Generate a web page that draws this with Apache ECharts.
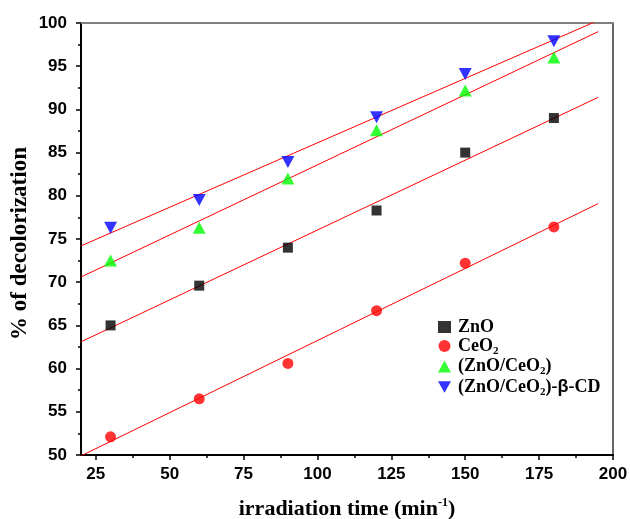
<!DOCTYPE html>
<html>
<head>
    <meta charset="utf-8">
    <title>decolorization</title>
    <script src="https://cdn.jsdelivr.net/npm/echarts@6.0.0/dist/echarts.min.js"></script>
    <style>
        html, body { margin: 0; padding: 0; background: #fff; }
        #main { width: 630px; height: 519px; }
    </style>
</head>
<body>
    <div id="main"></div>
    <script type="text/javascript">
        // data
        var times = [30, 60, 90, 120, 150, 180];
        var zno = [65.0, 69.6, 74.0, 78.3, 85.0, 89.0];
        var ceo2 = [52.1, 56.5, 60.6, 66.7, 72.2, 76.4];
        var znoCeo2 = [72.5, 76.3, 82.0, 87.6, 92.2, 96.0];
        var znoCeo2Cd = [76.3, 79.5, 83.9, 89.1, 94.1, 97.9];

        // fitted lines: start / end points
        var fitZno = [[20, 63.1], [195, 91.4]];
        var fitCeo2 = [[20, 49.9], [195, 79.1]];
        var fitZnoCeo2 = [[20, 70.6], [195, 99.0]];
        var fitZnoCeo2Cd = [[20, 74.2], [195, 100.3]];

        var xMajor = [25, 50, 75, 100, 125, 150, 175, 200];
        var xMinor = [37.5, 62.5, 87.5, 112.5, 137.5, 162.5, 187.5];

        function pairs(xs, ys) {
            return xs.map(function (x, i) { return [x, ys[i]]; });
        }

        var serif = "'Liberation Serif', 'Times New Roman', serif";
        var sans = "'Liberation Sans', Arial, sans-serif";
        var gridBox = { left: 81, right: 17, top: 23, bottom: 64, containLabel: false, outerBoundsMode: 'none' };
        var downTri = 'path://M0,0 L10,0 L5,9 Z';

        var rich = {
            b: { fontFamily: serif, fontWeight: 'bold', fontSize: 18, lineHeight: 21, color: '#000' },
            s: { fontFamily: serif, fontWeight: 'bold', fontSize: 11, lineHeight: 9, verticalAlign: 'bottom', color: '#000' },
            g: { fontFamily: sans, fontWeight: 'bold', fontSize: 18, lineHeight: 21, color: '#000' }
        };
        var legendNames = {
            'ZnO': '{b|ZnO}',
            'CeO2': '{b|CeO}{s|2}',
            '(ZnO/CeO2)': '{b|(ZnO/CeO}{s|2}{b|)}',
            '(ZnO/CeO2)-b-CD': '{b|(ZnO/CeO}{s|2}{b|)-}{g|β}{b|-CD}'
        };

        var myChart = echarts.init(document.getElementById("main"), null, { renderer: 'canvas' });

        function fitLine(pts) {
            return {
                type: 'line', data: pts, symbol: 'none', silent: true,
                lineStyle: { color: '#ff0000', width: 1 }, z: 1
            };
        }

        var option = {
            animation: false,
            backgroundColor: '#fff',
            grid: [
                Object.assign({}, gridBox),
                Object.assign({}, gridBox)
            ],
            legend: {
                orient: 'vertical',
                left: 433,
                top: 313,
                itemWidth: 13,
                itemHeight: 12,
                itemGap: 1,
                data: ['ZnO', 'CeO2', '(ZnO/CeO2)', '(ZnO/CeO2)-b-CD'],
                formatter: function (name) { return legendNames[name]; },
                textStyle: { rich: rich, padding: [0, 0, 0, 2] }
            },
            xAxis: [
                {
                    type: 'value', gridIndex: 0, position: 'bottom',
                    min: 20, max: 200,
                    name: '{t|irradiation time (min}{p|-1}{t|)}',
                    nameLocation: 'middle', nameGap: 42, nameMoveOverlap: false,
                    nameTextStyle: {
                        rich: {
                            t: { fontFamily: serif, fontWeight: 'bold', fontSize: 22, color: '#000', lineHeight: 24 },
                            p: { fontFamily: serif, fontWeight: 'bold', fontSize: 12, color: '#000', verticalAlign: 'top', lineHeight: 12 }
                        }
                    },
                    axisLine: { onZero: false, lineStyle: { color: '#000', width: 2 } },
                    axisTick: { customValues: xMajor, length: 5, lineStyle: { color: '#000', width: 1.5 } },
                    axisLabel: {
                        customValues: xMajor, margin: 11,
                        fontFamily: sans, fontWeight: 'bold', fontSize: 17, color: '#000'
                    },
                    splitLine: { show: false }
                },
                {
                    type: 'value', gridIndex: 0, position: 'top',
                    min: 20, max: 200,
                    axisLine: { onZero: false, lineStyle: { color: '#808080', width: 2 } },
                    axisTick: { show: false },
                    axisLabel: { show: false },
                    splitLine: { show: false }
                },
                {
                    type: 'value', gridIndex: 1, position: 'bottom',
                    min: 20, max: 200,
                    axisLine: { show: false, onZero: false },
                    axisTick: { customValues: xMinor, length: 3, lineStyle: { color: '#000', width: 1.5 } },
                    axisLabel: { show: false },
                    splitLine: { show: false }
                }
            ],
            yAxis: [
                {
                    type: 'value', gridIndex: 0, position: 'left',
                    min: 50, max: 100, interval: 5,
                    name: '% of decolorization',
                    nameLocation: 'middle', nameGap: 49, nameMoveOverlap: false,
                    nameTextStyle: { fontFamily: serif, fontWeight: 'bold', fontSize: 23, color: '#000', padding: [0, 9, 0, 0] },
                    axisLine: { onZero: false, lineStyle: { color: '#000', width: 2 } },
                    axisTick: { length: 5, lineStyle: { color: '#000', width: 1.5 } },
                    minorTick: { show: true, splitNumber: 2, length: 3, lineStyle: { color: '#000', width: 1.5 } },
                    axisLabel: { margin: 14, fontFamily: sans, fontWeight: 'bold', fontSize: 17, color: '#000' },
                    splitLine: { show: false }
                },
                {
                    type: 'value', gridIndex: 0, position: 'right',
                    min: 50, max: 100,
                    axisLine: { onZero: false, lineStyle: { color: '#333', width: 1.5 } },
                    axisTick: { show: false },
                    axisLabel: { show: false },
                    splitLine: { show: false }
                },
                {
                    type: 'value', gridIndex: 1,
                    min: 50, max: 100,
                    show: false
                }
            ],
            series: [
                fitLine(fitZno),
                fitLine(fitCeo2),
                fitLine(fitZnoCeo2),
                fitLine(fitZnoCeo2Cd),
                {
                    name: 'ZnO', type: 'scatter', data: pairs(times, zno),
                    symbol: 'rect', symbolSize: 10, itemStyle: { color: '#000' }, z: 3
                },
                {
                    name: 'CeO2', type: 'scatter', data: pairs(times, ceo2),
                    symbol: 'circle', symbolSize: 11, itemStyle: { color: '#ff0000' }, z: 3
                },
                {
                    name: '(ZnO/CeO2)', type: 'scatter', data: pairs(times, znoCeo2),
                    symbol: 'triangle', symbolSize: [13, 12], itemStyle: { color: '#00ff00' }, z: 3
                },
                {
                    name: '(ZnO/CeO2)-b-CD', type: 'scatter', data: pairs(times, znoCeo2Cd),
                    symbol: downTri, symbolSize: [13, 12], itemStyle: { color: '#0000ff' }, z: 3
                }
            ]
        };
        myChart.setOption(option);
    </script>
</body>
</html>
